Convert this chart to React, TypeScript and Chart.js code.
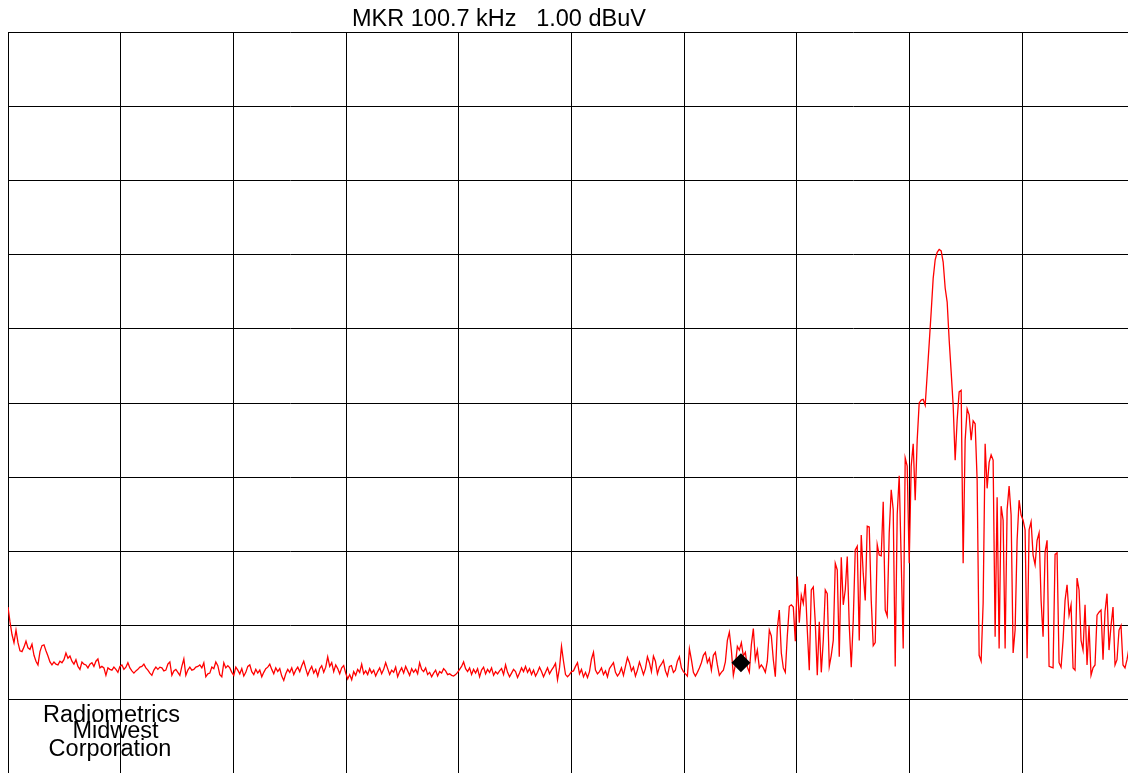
import React, { useEffect, useRef } from "react";
import { Chart, registerables } from "chart.js";

Chart.register(...registerables);

// Sweep settings (kHz) and trace levels (dBuV), one reading per sweep step
const START_KHZ = 9;
const STEP_KHZ = 0.25;
const LEVELS_DBUV = [
  8.5, 6.5, 4.8, 3.7, 5.4, 3.7, 2.6, 2.5, 3.1, 3.9,
  3.0, 2.8, 3.5, 2.0, 1.2, 0.7, 2.5, 3.3, 3.4, 2.6,
  1.9, 1.1, 0.7, 1.1, 0.8, 0.7, 1.2, 1.0, 1.4, 2.3,
  1.6, 1.9, 1.2, 0.8, 1.4, 0.5, 0.1, 1.1, 0.8, 0.7,
  0.3, 0.8, 1.0, 0.5, 1.2, 1.5, 0.3, 0.5, 0.3, -0.7,
  0.3, 0.1, 0.0, 0.4, 0.1, -0.3, 0.5, 0.7, 0.1, 0.4,
  1.0, 0.3, -0.1, -0.4, -0.1, 0.1, 0.4, 0.5, 0.8, 0.3,
  0.0, -0.4, -0.7, 0.0, 0.4, 0.1, 0.4, 0.3, -0.1, 0.0,
  0.8, 1.1, -0.7, -0.1, 0.1, -0.3, -0.7, 0.5, 1.5, -0.7,
  0.0, 0.4, 0.0, 0.1, 0.4, 0.5, 0.7, 0.3, 1.0, -0.9,
  -0.5, -0.4, 0.4, 0.2, 1.1, 0.6, -0.6, -0.9, 1.0, 0.3,
  0.6, 0.3, -0.3, -0.7, 0.4, 0.0, -0.5, 0.2, -0.8, -0.3,
  0.5, 0.7, -0.2, -0.6, 0.1, -0.4, 0.0, -0.9, -0.3, 0.2,
  0.4, 0.8, 0.1, -0.5, 0.3, -0.2, 0.2, -0.8, -1.4, -0.5,
  0.1, -0.3, 0.3, -0.6, 0.0, 0.4, -0.2, 0.6, 1.2, 0.2,
  -0.7, 0.0, 0.5, -0.4, 0.1, -0.8, 0.2, 0.6, -0.3, 0.4,
  1.8, 0.5, 1.0, -0.2, 0.7, 0.2, -0.5, 0.3, 0.6, -0.4,
  -1.2, -0.6, -1.3, -0.2, -0.7, 0.1, -0.3, 0.8, -0.5, -0.1,
  -0.6, 0.2, -0.4, 0.0, -0.8, -0.2, 0.3, -0.5, 0.1, 1.0,
  0.2, -0.6, 0.0, -0.3, 0.4, -0.9, -0.2, 0.3, -0.4, 0.5,
  -0.1, -0.7, 0.2, -0.3, 0.1, -0.5, 1.0, 0.1, -0.2, 0.3,
  -0.6, -0.3, -0.9, -0.4, 0.0, -0.8, -0.2, -0.4, 0.2, -0.1,
  -0.6, -0.5, -0.7, -0.8, -0.6, -0.3, 0.1, 0.5, 1.1, 0.2,
  -0.2, 0.3, -0.6, 0.1, -0.4, 0.2, -0.9, 0.0, 0.4, -0.5,
  0.1, -0.3, 0.3, -0.7, -0.2, -0.5, -0.1, 0.2, -0.6, 0.7,
  -0.3, -0.9, -0.4, 0.1, -0.2, -1.0, -0.4, 0.3, -0.2, 0.5,
  -0.3, 0.2, -0.6, 0.0, -0.8, -0.3, 0.4, -0.2, -0.9, -0.3,
  0.3, -0.5, 0.0, 0.4, 0.9, -1.3, 0.3, 3.2, 1.2, -0.6,
  -0.9, -0.6, -0.2, -0.1, 0.5, 1.0, -0.5, 0.1, -0.9, -0.3,
  -1.0, -0.2, 1.5, 2.4, 0.0, -0.5, -0.2, 0.3, -0.6, -0.1,
  -0.9, 0.2, 0.6, 1.0, -0.3, -0.8, -0.4, 0.3, -0.7, 0.5,
  1.7, 1.0, -0.1, 0.4, -0.8, 0.0, 1.1, 0.3, -0.6, 0.2,
  1.8, 1.0, -0.2, 1.9, 1.2, -0.5, 0.4, 0.8, 1.3, -0.1,
  -0.8, 0.5, 0.6, -0.3, 0.0, 1.2, 1.8, 0.3, -0.2, -0.5,
  -0.8, 2.9, 1.4, -0.3, -0.8, -0.3, 0.3, 1.0, 2.0, 2.4,
  1.0, 1.6, 0.0, 2.0, 2.4, 0.7, -0.7, -0.3, 0.0, 1.1,
  4.0, 5.1, 2.7, -0.7, 0.7, 3.2, 2.7, 3.7, 1.9, 2.4,
  0.4, -0.3, 3.4, 5.6, 1.4, 2.7, 0.3, 0.7, 0.3, -0.3,
  1.2, 5.4, 4.6, 1.4, -0.9, 5.6, 8.1, 2.3, 0.3, -0.3,
  4.6, 8.6, 8.8, 8.5, 3.9, 12.6, 6.4, 10.1, 9.0, 11.6,
  5.4, 0.0, 10.8, 11.2, 6.4, -0.7, 6.5, -0.3, 4.0, 10.8,
  10.3, 0.5, 2.0, 4.0, 14.4, 13.5, 1.8, 15.2, 8.8, 10.8,
  15.3, 6.0, 0.4, 6.7, 16.2, 16.7, 4.0, 18.2, 13.0, 9.4,
  19.4, 19.3, 9.4, 3.3, 3.7, 16.9, 15.5, 15.4, 22.7, 8.1,
  7.3, 18.5, 24.3, 21.6, 0.5, 21.0, 26.2, 14.8, 2.9, 28.6,
  27.5, 14.4, 27.5, 30.5, 22.9, 31.0, 36.0, 36.4, 36.5, 35.7,
  39.8, 44.0, 48.3, 52.8, 55.3, 56.3, 56.7, 56.5, 55.0, 51.5,
  49.6, 44.5, 40.2, 35.7, 28.3, 33.7, 37.5, 37.7, 14.4, 31.0,
  35.2, 34.4, 31.0, 33.6, 33.2, 25.6, 2.0, 1.2, 9.0, 30.5,
  24.5, 28.0, 29.0, 28.3, 4.5, 23.3, 2.9, 22.1, 20.2, 2.9,
  21.6, 24.8, 20.9, 2.3, 5.4, 17.5, 22.9, 20.9, 20.2, 18.9,
  1.6, 18.9, 20.0, 15.5, 14.2, 17.5, 18.5, 9.4, 4.5, 15.9,
  17.5, 0.5, 0.4, 0.3, 15.6, 15.8, 1.0, 0.4, 4.0, 9.4,
  11.5, 7.4, 8.8, 0.3, 0.0, 12.4, 10.8, 4.0, 2.7, 8.8,
  0.7, 6.0, -0.7, 0.3, 0.7, 7.4, 7.8, 8.1, 1.4, 7.9,
  10.3, 2.7, 6.0, 8.5, 0.7, 1.4, 5.4, 6.0, 0.7, 0.3,
  1.4, 3.0, 1.0, 0.5, 1.0,
];

// Graticule (10 divisions each way)
const X_GRID_KHZ = [9, 23.1, 37.2, 51.3, 65.4, 79.5, 93.6, 107.7, 121.8, 135.9, 150];
const Y_GRID_DBUV = [-14, -4, 6, 16, 26, 36, 46, 56, 66, 76, 86];

// Marker
const MARKER_KHZ = 100.7;
const MARKER_DBUV = 1.0;

const TITLE = "MKR 100.7 kHz   1.00 dBuV";
const LOGO_LINES = ["Radiometrics", "Midwest", "Corporation"];

const FONT = '23.5px "Liberation Sans", Arial, Helvetica, sans-serif';
const CANVAS_W = 1136;
const CANVAS_H = 775;

const textPlugin = {
  id: "spectrumText",
  afterDraw(chart: any) {
    const ctx = chart.ctx as CanvasRenderingContext2D;
    ctx.save();
    ctx.fillStyle = "#000";
    ctx.font = FONT;
    ctx.textBaseline = "alphabetic";
    ctx.textAlign = "left";
    ctx.fillText(TITLE, 352, 26);
    ctx.textAlign = "center";
    ctx.fillText(LOGO_LINES[0], 111.5, 722);
    ctx.fillText(LOGO_LINES[1], 115.5, 738);
    ctx.fillText(LOGO_LINES[2], 110, 756);
    ctx.restore();
  },
};

export default function App() {
  const ref = useRef<HTMLCanvasElement | null>(null);

  useEffect(() => {
    if (!ref.current) return;
    const trace = LEVELS_DBUV.map((v, i) => ({ x: START_KHZ + i * STEP_KHZ, y: v }));
    const chart = new Chart(ref.current, {
      type: "line",
      data: {
        datasets: [
          {
            data: [{ x: MARKER_KHZ, y: MARKER_DBUV }],
            showLine: false,
            pointStyle: "rectRot",
            pointRadius: 9.5,
            pointBackgroundColor: "#000",
            pointBorderColor: "#000",
            pointBorderWidth: 0,
            borderColor: "#000",
            backgroundColor: "#000",
          },
          {
            data: trace,
            borderColor: "#ff0000",
            borderWidth: 1.3,
            pointRadius: 0,
            tension: 0,
            fill: false,
          },
        ],
      } as any,
      options: {
        animation: false,
        responsive: false,
        maintainAspectRatio: false,
        devicePixelRatio: 1,
        events: [],
        layout: { autoPadding: false, padding: { left: 8, top: 32, right: 1, bottom: 1 } },
        plugins: {
          legend: { display: false },
          tooltip: { enabled: false },
          title: { display: false },
        },
        scales: {
          x: {
            type: "linear",
            min: 9,
            max: 150,
            ticks: { display: false },
            grid: { color: "#000", lineWidth: 1, drawTicks: false },
            border: { display: true, color: "#000", width: 1 },
            afterBuildTicks: (s: any) => {
              s.ticks = X_GRID_KHZ.map((v) => ({ value: v }));
            },
          },
          y: {
            type: "linear",
            min: -14,
            max: 86,
            ticks: { display: false },
            grid: { color: "#000", lineWidth: 1, drawTicks: false },
            border: { display: true, color: "#000", width: 1 },
            afterBuildTicks: (s: any) => {
              s.ticks = Y_GRID_DBUV.map((v) => ({ value: v }));
            },
          },
        },
      } as any,
      plugins: [textPlugin],
    });
    return () => chart.destroy();
  }, []);

  return (
    <div
      style={{
        position: "absolute",
        left: 0,
        top: 0,
        width: 1128,
        height: 773,
        overflow: "hidden",
        background: "#fff",
      }}
    >
      <div style={{ position: "relative", width: CANVAS_W, height: CANVAS_H }}>
        <canvas
          ref={ref}
          width={CANVAS_W}
          height={CANVAS_H}
          style={{ display: "block", width: CANVAS_W, height: CANVAS_H }}
        />
      </div>
    </div>
  );
}
